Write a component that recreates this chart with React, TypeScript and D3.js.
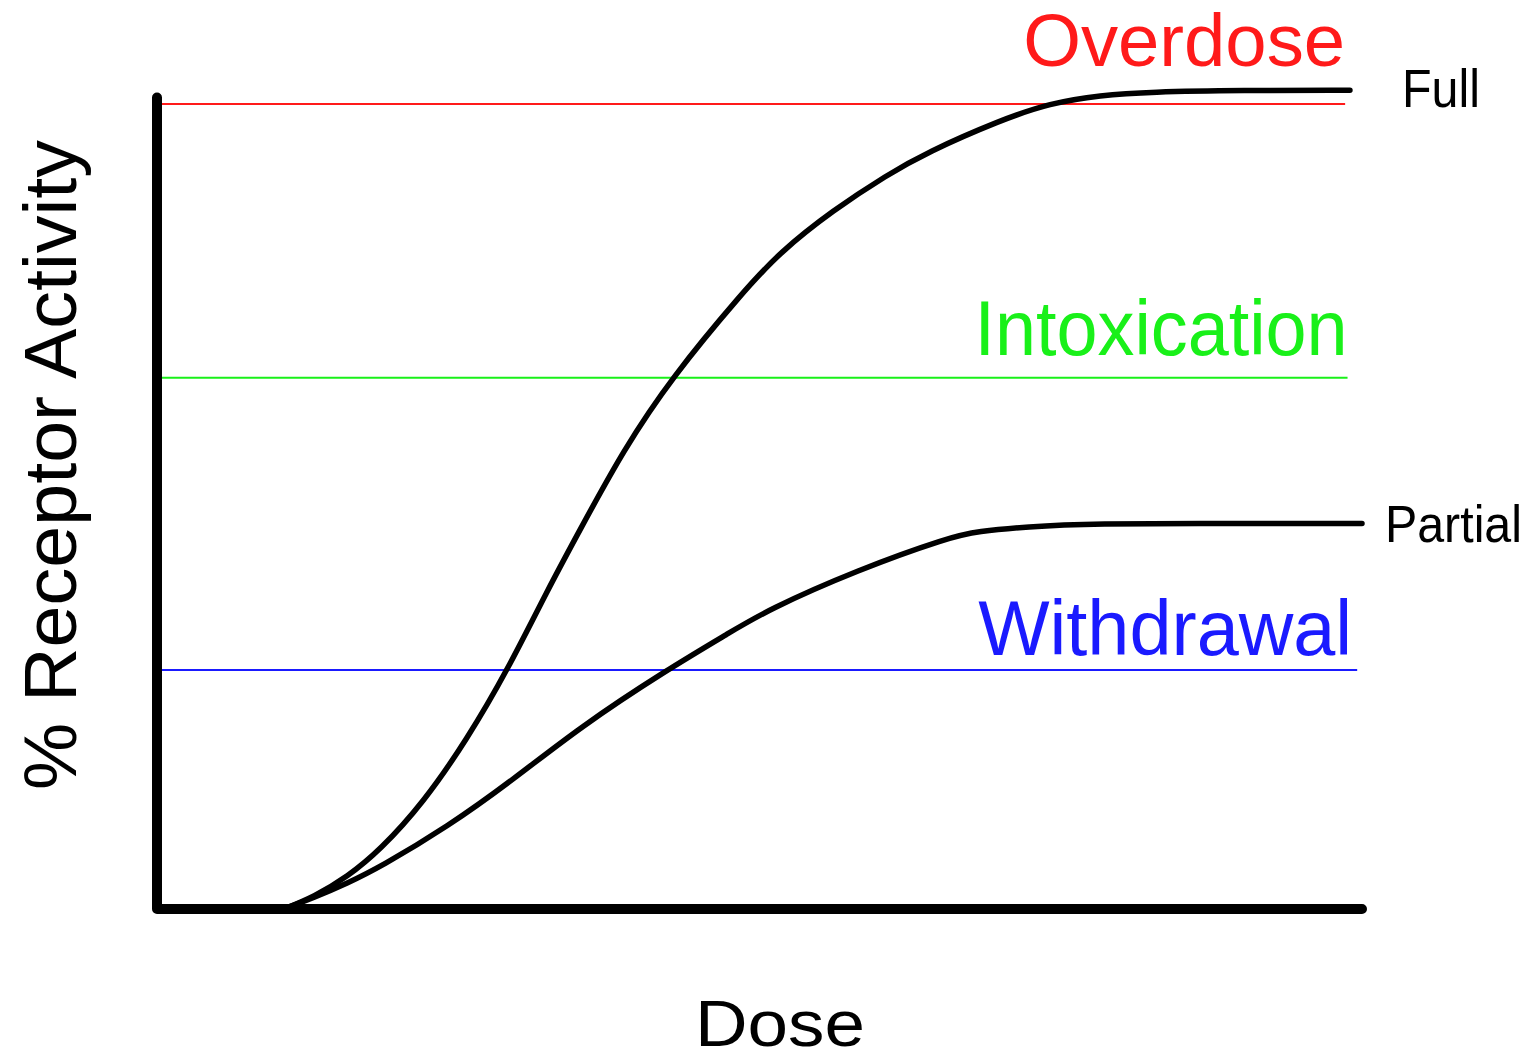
import React from "react";
import * as d3 from "d3";

// ---- data (dose in arbitrary units 0..100, activity in % of max) ----
const fullDose = [10.5, 13.0, 15.8, 18.5, 22.1, 25.7, 29.1, 32.4, 35.1, 38.7, 42.7, 48.6, 51.7, 56.1, 60.6, 63.9, 70.0, 74.1, 78.3, 82.4, 90.0, 99.0];
const fullActivity = [0, 1.5, 4.0, 7.3, 13.2, 21.0, 29.7, 39.6, 47.1, 57.0, 66.0, 76.6, 81.6, 86.8, 91.2, 94.0, 98.0, 100.1, 101.1, 101.5, 101.7, 101.7];

const partialDose = [10.5, 13.0, 15.8, 18.5, 24.1, 29.5, 35.1, 42.3, 47.6, 50.6, 58.1, 65.8, 68.1, 72.2, 77.4, 90.0, 100];
const partialActivity = [0, 1.4, 3.2, 5.2, 10.2, 16.0, 22.6, 29.7, 34.4, 37.1, 42.1, 46.2, 46.9, 47.5, 47.9, 47.9, 47.9];

const thresholdNames = ["Overdose", "Intoxication", "Withdrawal"];
const thresholdLevels = [100, 66, 29.7];
const thresholdEnds = [98.6, 98.8, 99.6];
const thresholdColors = ["#ff1a1a", "#19f019", "#1a1aff"];

const curveNames = ["Full", "Partial"];

const xLabel = "Dose";
const yLabel = "% Receptor Activity";

export default function App() {
  const W = 1537, H = 1059;
  const x = d3.scaleLinear().domain([0, 100]).range([157, 1362]);
  const y = d3.scaleLinear().domain([0, 100]).range([909, 104]);

  const line = d3
    .line<[number, number]>()
    .x((d) => x(d[0]))
    .y((d) => y(d[1]))
    .curve(d3.curveBasis);

  const fullPts: [number, number][] = fullDose.map((d, i) => [d, fullActivity[i]]);
  const partialPts: [number, number][] = partialDose.map((d, i) => [d, partialActivity[i]]);

  const font = "'Liberation Sans', Arial, Helvetica, sans-serif";

  const labelCfg = [
    { size: 74, dy: -38, len: 322 },
    { size: 77, dy: -23, len: 373 },
    { size: 77, dy: -15, len: 374 },
  ];

  return (
    <svg
      width={W}
      height={H}
      style={{ position: "absolute", left: 0, top: 0, background: "#fff" }}
      fontFamily={font}
    >
      {/* threshold lines */}
      {thresholdLevels.map((lv, i) => (
        <g key={thresholdNames[i]}>
          <line
            x1={x(0) + 3}
            x2={x(thresholdEnds[i])}
            y1={y(lv)}
            y2={y(lv)}
            stroke={thresholdColors[i]}
            strokeWidth={2}
          />
          <text
            x={x(thresholdEnds[i]) - (i === 2 ? 5 : 0)}
            y={y(lv) + labelCfg[i].dy}
            textAnchor="end"
            fontSize={labelCfg[i].size}
            fill={thresholdColors[i]}
            textLength={labelCfg[i].len}
            lengthAdjust="spacingAndGlyphs"
          >
            {thresholdNames[i]}
          </text>
        </g>
      ))}

      {/* curves */}
      <path d={line(fullPts) || ""} fill="none" stroke="#000" strokeWidth={5.5} strokeLinecap="round" strokeLinejoin="round" />
      <path d={line(partialPts) || ""} fill="none" stroke="#000" strokeWidth={5.5} strokeLinecap="round" strokeLinejoin="round" />

      {/* curve labels */}
      <text
        x={x(fullDose[fullDose.length - 1]) + 52}
        y={y(fullActivity[fullActivity.length - 1]) + 17}
        fontSize={54}
        fill="#000"
        textLength={78}
        lengthAdjust="spacingAndGlyphs"
      >
        {curveNames[0]}
      </text>
      <text
        x={x(partialDose[partialDose.length - 1]) + 23}
        y={y(partialActivity[partialActivity.length - 1]) + 19}
        fontSize={52}
        fill="#000"
        textLength={137}
        lengthAdjust="spacingAndGlyphs"
      >
        {curveNames[1]}
      </text>

      {/* axes */}
      <path
        d={`M${x(0)},${y(100.8)} L${x(0)},${y(0)} L${x(100)},${y(0)}`}
        fill="none"
        stroke="#000"
        strokeWidth={10}
        strokeLinejoin="round"
        strokeLinecap="round"
      />

      {/* axis titles */}
      <text x={780} y={1046} textAnchor="middle" fontSize={64} fill="#000" textLength={170} lengthAdjust="spacingAndGlyphs">
        {xLabel}
      </text>
      <text
        transform={`translate(76, 465) rotate(-90)`}
        textAnchor="middle"
        fontSize={75}
        fill="#000"
        textLength={650}
        lengthAdjust="spacingAndGlyphs"
      >
        {yLabel}
      </text>
    </svg>
  );
}
